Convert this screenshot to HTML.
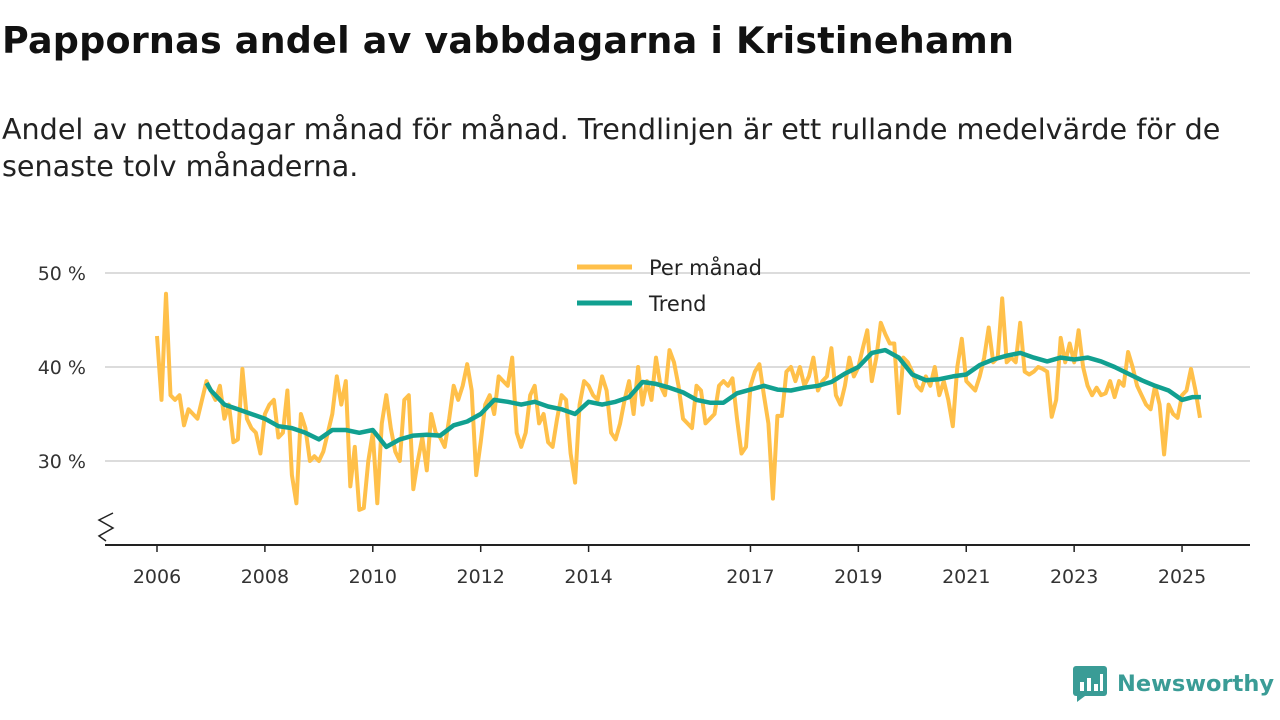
<!DOCTYPE html>
<html><head><meta charset="utf-8">
<style>
body{margin:0;width:1280px;height:720px;background:#fff;font-family:"DejaVu Sans","Liberation Sans",sans-serif;overflow:hidden;position:relative;color:#111}
h1{position:absolute;left:2px;top:19px;margin:0;font-size:36.5px;font-weight:bold;letter-spacing:0.2px;white-space:nowrap}
.sub{position:absolute;left:2px;top:111px;margin:0;font-size:28.6px;line-height:37px;color:#222;width:1270px}
svg{position:absolute;left:0;top:0}
.logo{position:absolute;left:1073px;top:666px;display:flex;align-items:center}
.logo span{font-size:22.5px;font-weight:bold;color:#3a9c96;margin-left:10px}
</style></head><body>
<h1>Pappornas andel av vabbdagarna i Kristinehamn</h1>
<p class="sub">Andel av nettodagar månad för månad. Trendlinjen är ett rullande medelvärde för de senaste tolv månaderna.</p>
<svg id="chart" width="1280" height="720"></svg>
<div class="logo">
<svg width="34" height="36" style="position:static"><rect x="0" y="0" width="34" height="30" rx="3" fill="#3a9c96"/><polygon points="4,30 12,30 4,36" fill="#3a9c96"/><rect x="7" y="16" width="4" height="9" fill="#fff"/><rect x="14" y="12" width="4" height="13" fill="#fff"/><rect x="21" y="18" width="4" height="7" fill="#fff"/><rect x="27" y="8" width="3" height="17" fill="#fff"/></svg>
<span>Newsworthy</span></div>
<script>
const startYear = 2006;
const monthly = [
43.3,36.5,47.8,37,36.5,37,33.8,35.5,35,34.5,36.5,38.5,
37.5,36.5,38,34.5,36,32,32.3,39.8,34.5,33.5,33,30.8,
35,36,36.5,32.5,33,37.5,28.5,25.5,35,33.5,30,30.5,
30,31,33,35,39,36,38.5,27.3,31.5,24.8,25,30,
33,25.5,34,37,33.5,31,30,36.5,37,27,30,32.5,
29,35,33,32.5,31.5,34.5,38,36.5,38,40.3,37.5,28.5,
32,36,37,35,39,38.5,38,41,33,31.5,33,37,
38,34,35,32,31.5,34.5,37,36.5,30.8,27.7,36,38.5,
38,37,36.5,39,37.5,33,32.3,34,36.5,38.5,35,40,
36,38.5,36.5,41,38,37,41.8,40.5,38,34.5,34,33.5,
38,37.5,34,34.5,35,38,38.5,38,38.8,34.5,30.8,31.5,
38,39.5,40.3,37,34,26,34.8,34.8,39.5,40,38.5,40,
38,39,41,37.5,38.5,39,42,37,36,38,41,39,
40,42,43.9,38.5,41,44.7,43.5,42.5,42.5,35.1,41,40.5,
39.5,38,37.5,39,38,40,37,38.5,36.5,33.7,40,43,
38.5,38,37.5,39,41,44.2,40.5,41,47.3,40.5,41,40.5,
44.7,39.5,39.2,39.5,40,39.8,39.5,34.7,36.5,43.1,40.5,42.5,
40.5,43.9,40,38,37,37.8,37,37.2,38.5,36.8,38.5,38,
41.6,40,38,37,36,35.5,38,36,30.7,36,35,34.6,
37,37.5,39.8,37.5,34.6
];
const trendX = [2006.92,2007.0,2007.25,2007.5,2007.75,2008.0,2008.25,2008.5,2008.75,2009.0,2009.25,2009.5,2009.75,2010.0,2010.25,2010.5,2010.75,2011.0,2011.25,2011.5,2011.75,2012.0,2012.25,2012.5,2012.75,2013.0,2013.25,2013.5,2013.75,2014.0,2014.25,2014.5,2014.75,2015.0,2015.25,2015.5,2015.75,2016.0,2016.25,2016.5,2016.75,2017.0,2017.25,2017.5,2017.75,2018.0,2018.25,2018.5,2018.75,2019.0,2019.25,2019.5,2019.75,2020.0,2020.25,2020.5,2020.75,2021.0,2021.25,2021.5,2021.75,2022.0,2022.25,2022.5,2022.75,2023.0,2023.25,2023.5,2023.75,2024.0,2024.25,2024.5,2024.75,2025.0,2025.2,2025.35];
const trendY = [38.3,37.5,36,35.5,35,34.5,33.7,33.5,33,32.3,33.3,33.3,33,33.3,31.5,32.3,32.7,32.8,32.7,33.8,34.2,35,36.5,36.3,36,36.3,35.8,35.5,35,36.3,36,36.3,36.8,38.4,38.2,37.8,37.3,36.5,36.2,36.2,37.2,37.6,38,37.6,37.5,37.8,38,38.4,39.3,40,41.5,41.8,41,39.2,38.6,38.7,39,39.2,40.2,40.8,41.2,41.5,41,40.6,41,40.8,41,40.6,40,39.3,38.6,38,37.5,36.5,36.8,36.8];
const yTicks = [30,40,50];
const yLabels = ["30 %","40 %","50 %"];
const xTicks = [2006,2008,2010,2012,2014,2017,2019,2021,2023,2025];

const NS="http://www.w3.org/2000/svg";
const svg=document.getElementById('chart');
const X=y=>157+(y-2006)*53.95;
const Y=v=>367-(v-40)*9.4;
const FF='DejaVu Sans, Liberation Sans, sans-serif';
function mk(t,a){const e=document.createElementNS(NS,t);for(const k in a)e.setAttribute(k,a[k]);svg.appendChild(e);return e;}

yTicks.forEach((t,i)=>{
  const g=mk('line',{x1:105,x2:1250,y1:Y(t),y2:Y(t),stroke:'#dcdcdc','stroke-width':2});
  
  
  const l=mk('text',{x:86,y:Y(t)+7,'text-anchor':'end','font-size':19,fill:'#333','font-family':FF});
  l.textContent=yLabels[i];
  
  
});
const ax=mk('line',{x1:105,x2:1250,y1:545,y2:545,stroke:'#222','stroke-width':2});


const br=mk('polyline',{points:'106,541 99,536 113,528 99,520 113,513',fill:'none',stroke:'#222','stroke-width':1.5});


xTicks.forEach(t=>{
  const tk=mk('line',{x1:X(t),x2:X(t),y1:545,y2:552,stroke:'#222','stroke-width':1.5});
  
  
  const l=mk('text',{x:X(t),y:583,'text-anchor':'middle','font-size':19,fill:'#333','font-family':FF});
  l.textContent=t;
  
  
});
const mp=monthly.map((v,i)=>X(startYear+i/12).toFixed(1)+','+Y(v).toFixed(1)).join(' ');
const ml=mk('polyline',{points:mp,fill:'none',stroke:'#ffc04a','stroke-width':4,'stroke-linejoin':'round'});


const tp=trendX.map((x,i)=>X(x).toFixed(1)+','+Y(trendY[i]).toFixed(1)).join(' ');
const tl=mk('polyline',{points:tp,fill:'none',stroke:'#11a090','stroke-width':4.5,'stroke-linejoin':'round'});


[['#ffc04a','Per månad',267,'legend-monthly'],['#11a090','Trend',303,'legend-trend']].forEach(d=>{
  const ll=mk('line',{x1:577,x2:632,y1:d[2],y2:d[2],stroke:d[0],'stroke-width':5});
  
  
  const tx=mk('text',{x:649,y:d[2]+8,'font-size':21,fill:'#222','font-family':FF});
  tx.textContent=d[1];
  
  
});
</script>
</body></html>
